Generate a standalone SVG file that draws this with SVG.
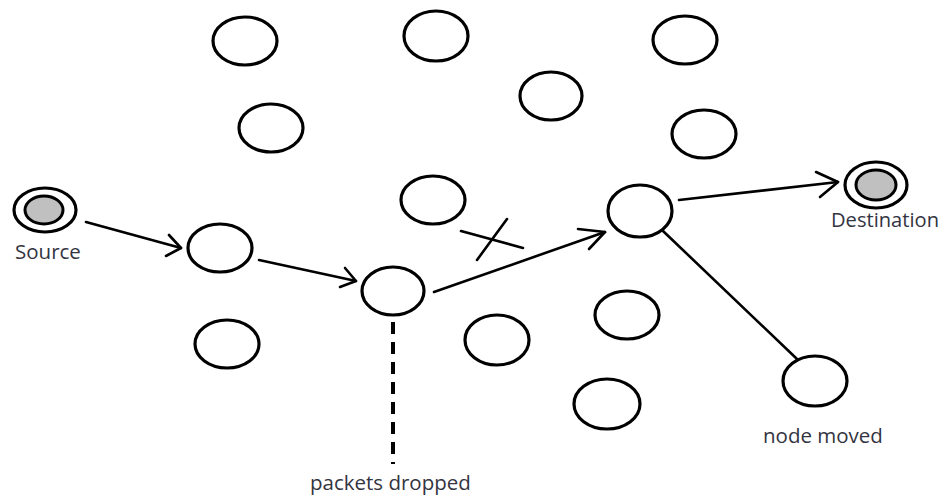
<svg xmlns="http://www.w3.org/2000/svg" width="943" height="496" viewBox="0 0 943 496">
  <style>
    .node { fill: none; stroke: #000; stroke-width: 3.2; }
    .ring { fill: #fff; stroke: #000; stroke-width: 3.2; }
    .core { fill: #c0c0c0; stroke: #000; stroke-width: 3; }
    .edge { fill: none; stroke: #000; stroke-width: 2.6; stroke-linecap: round; stroke-linejoin: round; }
    .drop { fill: none; stroke: #000; stroke-width: 4; stroke-dasharray: 12 8; }
    .label { font-family: "Open Sans", "Liberation Sans", sans-serif; font-size: 20.5px; fill: #33343f; }
  </style>
  <rect width="943" height="496" fill="#fff"/>

  <!-- links between nodes -->
  <g id="connectors">
    <line class="edge" x1="86" y1="222" x2="181" y2="248"/>
    <polyline class="edge" points="169,235 181,248 166,256"/>
    <line class="edge" x1="259" y1="260" x2="356" y2="281"/>
    <polyline class="edge" points="345,268 356,281 340,287"/>
    <line class="edge" x1="434" y1="292" x2="605" y2="232"/>
    <polyline class="edge" points="578,229 605,232 589,249"/>
    <line class="edge" x1="679" y1="200" x2="838" y2="182"/>
    <polyline class="edge" points="816,172 838,182 820,197"/>
    <line class="edge" x1="663" y1="231" x2="797" y2="359"/>
    <line class="drop" x1="393" y1="322" x2="393" y2="464"/>
    <!-- broken link mark -->
    <line class="edge" x1="461" y1="231" x2="523" y2="248"/>
    <line class="edge" x1="507" y1="219" x2="477" y2="260"/>
  </g>

  <g id="source">
    <ellipse class="ring" cx="45" cy="210" rx="31" ry="22"/>
    <ellipse class="core" cx="44" cy="210" rx="19" ry="14"/>
    <text class="label" x="15" y="259">Source</text>
  </g>
  <g id="destination">
    <ellipse class="ring" cx="876" cy="185" rx="31" ry="23"/>
    <ellipse class="core" cx="876" cy="185" rx="20" ry="15"/>
    <text class="label" x="831" y="227" textLength="108" lengthAdjust="spacingAndGlyphs">Destination</text>
  </g>

  <g id="n1"><ellipse class="node" cx="245" cy="41" rx="32" ry="24"/></g>
  <g id="n2"><ellipse class="node" cx="436" cy="36" rx="32" ry="25"/></g>
  <g id="n3"><ellipse class="node" cx="685" cy="40" rx="32" ry="24"/></g>
  <g id="n4"><ellipse class="node" cx="271" cy="128" rx="32" ry="24"/></g>
  <g id="n5"><ellipse class="node" cx="551" cy="96" rx="31" ry="24"/></g>
  <g id="n6"><ellipse class="node" cx="704" cy="134" rx="32" ry="24"/></g>
  <g id="n7"><ellipse class="node" cx="433" cy="200" rx="32" ry="24"/></g>
  <g id="n8"><ellipse class="node" cx="220" cy="248" rx="32" ry="24"/></g>
  <g id="n9"><ellipse class="node" cx="393" cy="291" rx="31" ry="24"/></g>
  <g id="n10"><ellipse class="node" cx="640" cy="211" rx="32" ry="26"/></g>
  <g id="n11"><ellipse class="node" cx="627" cy="315" rx="32" ry="24"/></g>
  <g id="n12"><ellipse class="node" cx="497" cy="340" rx="32" ry="25"/></g>
  <g id="n13"><ellipse class="node" cx="227" cy="344" rx="32" ry="24"/></g>
  <g id="n14"><ellipse class="node" cx="607" cy="404" rx="33" ry="25"/></g>
  <g id="n15">
    <ellipse class="node" cx="815" cy="381" rx="32" ry="25"/>
    <text class="label" x="763" y="443">node moved</text>
  </g>
  <g id="drop-note">
    <text class="label" x="310" y="490">packets dropped</text>
  </g>
</svg>
